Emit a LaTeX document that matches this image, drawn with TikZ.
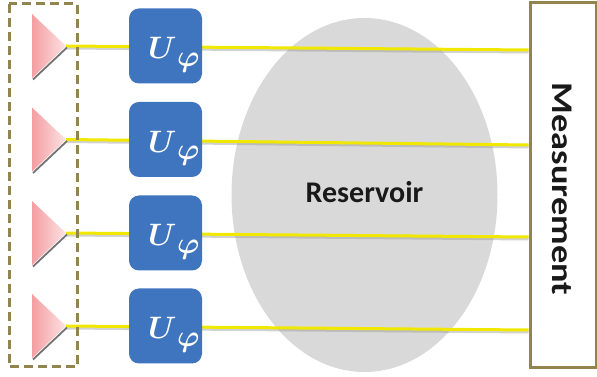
\RequirePackage{fix-cm}
\documentclass[tikz,border=0pt]{standalone}
\usepackage{fontspec}
\usepackage{bm}
\usetikzlibrary{shapes.geometric}
\newfontfamily\labelfont{Carlito}
\definecolor{gateblue}{RGB}{62,117,190}
\definecolor{beamyellow}{RGB}{240,232,0}
\definecolor{frameolive}{RGB}{145,132,76}
\definecolor{reservoirgray}{RGB}{217,217,217}
\definecolor{tripink}{RGB}{244,158,162}
\definecolor{tripinklight}{RGB}{252,226,226}
\newcommand{\gatelabel}{%
  {\fontsize{31}{31}\selectfont$\bm{U}$}\kern0.5pt%
  \raisebox{-7.5pt}{\fontsize{30}{30}\selectfont$\bm{\varphi}$}}
\begin{document}
\begin{tikzpicture}[x=1pt,y=1pt,
  gate/.style={rectangle, rounded corners=10pt, fill=gateblue, minimum width=73pt,
    minimum height=75pt, inner sep=0pt},
  gatetext/.style={anchor=base west, inner sep=0pt, text=white},
  beam/.style={line width=3pt, draw=beamyellow},
  beamshadow/.style={line width=3pt, draw=black!40, opacity=0.45},
  frame/.style={draw=frameolive, line width=3pt},
  bigsans/.style={font=\labelfont\bfseries\fontsize{30}{30}\selectfont, text=black!90}
]
\useasboundingbox (0,0) rectangle (597,377);

% reservoir
\node[ellipse, fill=reservoirgray, minimum width=266pt, minimum height=354pt, inner sep=0pt] (res) at (364.5,182) {};
\node[bigsans] (reslabel) at (364.5,185) {Reservoir};

% measurement block
\node[frame, fill=white, minimum width=66pt, minimum height=365pt, inner sep=0pt] (meas) at (563,191.5) {};
\node[bigsans, rotate=-90] (measlabel) at (562,188) {\scalebox{1.21}[1]{Measurement}};

% four channels: source, phase gate, beam to the measurement
\foreach \i/\r/\e in {1/331/327, 2/237.5/232, 3/144/140, 4/51/47} {
  \coordinate (src\i) at (66,\r);
  \coordinate (dst\i) at (meas.west |- 0,\e);
  \draw[beamshadow] ([yshift=-2pt]src\i) -- ([yshift=-2pt]dst\i);
  \draw[beam] (src\i) -- (dst\i);
  \node[gate] (gate\i) at (165.5,\r) {};
  \node[gatetext] (gatelabel\i) at ([xshift=-17.5pt,yshift=-13pt]gate\i.center) {\gatelabel};
  \draw[line width=1.8pt, black!55] (67,\r-1.5) -- (33,\r-33.5);
  \shade[left color=tripink, right color=tripinklight] (32,\r+32) -- (32,\r-32) -- (src\i) -- cycle;
}

% source array outline
\draw[frame, dash pattern=on 9pt off 5pt] (9,373) rectangle (77,10);
\end{tikzpicture}
\end{document}
